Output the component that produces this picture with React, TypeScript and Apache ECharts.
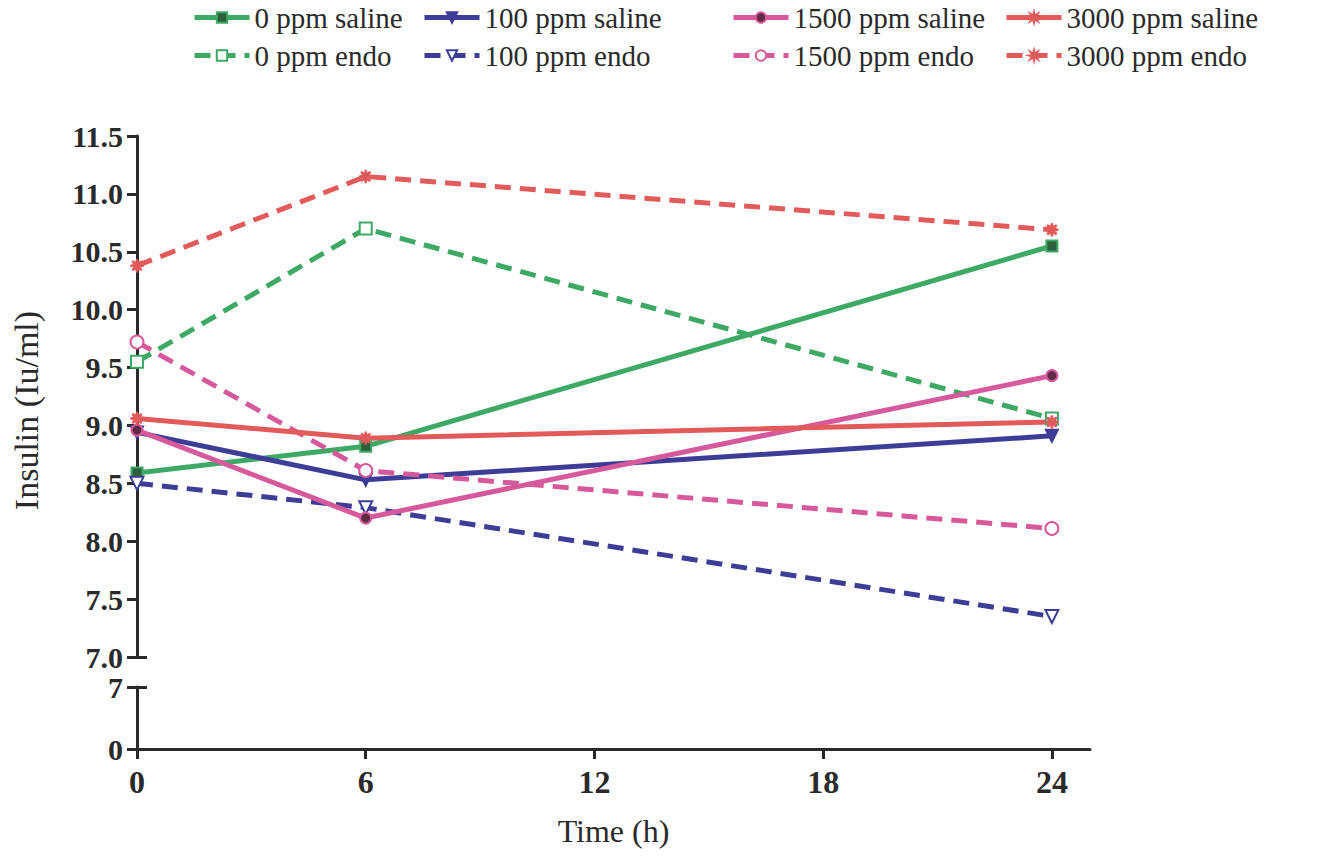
import React, { useEffect, useRef } from "react";
import * as echarts from "echarts";

// Sampling times (h) and the x tick labels
const hours = [0, 6, 24];
const xTicks = [0, 6, 12, 18, 24];

// Insulin (Iu/ml) per treatment group
const saline0 = [8.59, 8.82, 10.55];
const endo0 = [9.55, 10.7, 9.06];
const saline100 = [8.94, 8.53, 8.91];
const endo100 = [8.5, 8.29, 7.35];
const saline1500 = [8.96, 8.2, 9.43];
const endo1500 = [9.72, 8.61, 8.11];
const saline3000 = [9.06, 8.89, 9.03];
const endo3000 = [10.38, 11.15, 10.69];

// Upper (zoomed) and lower (full) y ranges of the broken axis
const upperTicks = [7.0, 7.5, 8.0, 8.5, 9.0, 9.5, 10.0, 10.5, 11.0, 11.5];
const lowerTicks = [0, 7];

const GREEN = "#3ea865";
const BLUE = "#3d3d97";
const PINK = "#d65a9b";
const RED = "#e25a5a";
const INK = "#2a2a2a";

const STAR =
  "path://M0,-10 L1.53,-3.7 L7.07,-7.07 L3.7,-1.53 L10,0 L3.7,1.53 L7.07,7.07 L1.53,3.7 L0,10 L-1.53,3.7 L-7.07,7.07 L-3.7,1.53 L-10,0 L-3.7,-1.53 L-7.07,-7.07 L-1.53,-3.7 Z";

const FONT = "'Liberation Serif', 'Times New Roman', serif";

type Def = {
  name: string;
  values: number[];
  color: string;
  dashed: boolean;
  symbol: string;
  fill: string;
  rotate?: number;
  size?: number;
};

const defs: Def[] = [
  { name: "0 ppm saline", values: saline0, color: GREEN, dashed: false, symbol: "rect", fill: "#2c5f3b", size: 11 },
  { name: "0 ppm endo", values: endo0, color: GREEN, dashed: true, symbol: "rect", fill: "#ffffff", size: 12 },
  { name: "100 ppm saline", values: saline100, color: BLUE, dashed: false, symbol: "triangle", fill: BLUE, rotate: 180, size: 12 },
  { name: "100 ppm endo", values: endo100, color: BLUE, dashed: true, symbol: "triangle", fill: "#ffffff", rotate: 180, size: 13 },
  { name: "1500 ppm saline", values: saline1500, color: PINK, dashed: false, symbol: "circle", fill: "#5e2a46", size: 11 },
  { name: "1500 ppm endo", values: endo1500, color: PINK, dashed: true, symbol: "circle", fill: "#ffffff", size: 13 },
  { name: "3000 ppm saline", values: saline3000, color: RED, dashed: false, symbol: STAR, fill: RED, size: 13 },
  { name: "3000 ppm endo", values: endo3000, color: RED, dashed: true, symbol: STAR, fill: RED, size: 13 },
];

const legendLefts = [192, 422, 731, 1004];

export default function App() {
  const ref = useRef<HTMLDivElement>(null);

  useEffect(() => {
    if (!ref.current) return;
    const chart = echarts.init(ref.current, null, { renderer: "svg" });

    const axisLine = { show: true, lineStyle: { color: INK, width: 3 } };
    const tickStyle = { color: INK, width: 3 };
    const xTickLabel = {
      fontFamily: FONT,
      fontSize: 32,
      fontWeight: "bold" as const,
      color: INK,
    };
    const yTickLabel = {
      fontFamily: FONT,
      fontSize: 30,
      lineHeight: 24,
      fontWeight: "bold" as const,
      color: INK,
    };

    const series = defs.map((d) => ({
      type: "line",
      name: d.name,
      xAxisIndex: 0,
      yAxisIndex: 0,
      data: hours.map((h, i) => [h, d.values[i]]),
      symbol: d.symbol,
      symbolSize: d.size ?? 12,
      symbolRotate: d.rotate ?? 0,
      showSymbol: true,
      lineStyle: {
        color: d.color,
        width: 5,
        type: d.dashed ? [16, 9] : "solid",
      },
      itemStyle: { color: d.fill, borderColor: d.color, borderWidth: 2 },
      z: 3,
    }));

    const legends = legendLefts.map((left, c) => ({
      orient: "vertical",
      left,
      top: 3,
      padding: 0,
      itemWidth: 55,
      itemHeight: 13,
      itemGap: 9,
      lineStyle: { width: 5 },
      data: [defs[c * 2].name, defs[c * 2 + 1].name],
      textStyle: {
        fontFamily: FONT,
        fontSize: 29,
        lineHeight: 28,
        color: INK,
      },
    }));

    chart.setOption({
      animation: false,
      backgroundColor: "#ffffff",
      legend: legends,
      grid: [
        { left: 137, width: 953, top: 136, height: 521 },
        { left: 137, width: 953, top: 687, height: 62 },
      ],
      xAxis: [
        {
          type: "value",
          gridIndex: 0,
          min: 0,
          max: 25,
          show: false,
        },
        {
          type: "value",
          gridIndex: 1,
          min: 0,
          max: 25,
          axisLine: axisLine,
          splitLine: { show: false },
          axisTick: {
            show: true,
            length: 10,
            lineStyle: tickStyle,
            customValues: xTicks,
          },
          axisLabel: { ...xTickLabel, margin: 17, customValues: xTicks },
          name: "Time (h)",
          nameLocation: "middle",
          nameGap: 66,
          nameTextStyle: { fontFamily: FONT, fontSize: 32, color: INK },
        },
      ],
      yAxis: [
        {
          type: "value",
          gridIndex: 0,
          position: "left",
          min: 7,
          max: 11.5,
          interval: 0.5,
          axisLine: axisLine,
          splitLine: { show: false },
          axisTick: {
            show: true,
            length: 10,
            lineStyle: tickStyle,
            customValues: upperTicks,
          },
          axisLabel: {
            ...yTickLabel,
            margin: 14,
            customValues: upperTicks,
            formatter: (v: number) => v.toFixed(1),
          },
          name: "Insulin (Iu/ml)",
          nameLocation: "middle",
          nameGap: 94,
          nameTextStyle: {
            fontFamily: FONT,
            fontSize: 34,
            color: INK,
            padding: [0, 28, 0, 0],
          },
        },
        {
          // break cap at the bottom of the upper segment
          type: "value",
          gridIndex: 0,
          position: "left",
          min: 7,
          max: 11.5,
          axisLine: { show: false },
          splitLine: { show: false },
          axisLabel: { show: false },
          axisTick: {
            show: true,
            inside: true,
            length: 10,
            lineStyle: tickStyle,
            customValues: [7],
          },
        },
        {
          type: "value",
          gridIndex: 1,
          position: "left",
          min: 0,
          max: 7,
          interval: 7,
          axisLine: axisLine,
          splitLine: { show: false },
          axisTick: {
            show: true,
            length: 10,
            lineStyle: tickStyle,
            customValues: lowerTicks,
          },
          axisLabel: { ...yTickLabel, margin: 14, customValues: lowerTicks },
        },
        {
          // break cap at the top of the lower segment
          type: "value",
          gridIndex: 1,
          position: "left",
          min: 0,
          max: 7,
          axisLine: { show: false },
          splitLine: { show: false },
          axisLabel: { show: false },
          axisTick: {
            show: true,
            inside: true,
            length: 10,
            lineStyle: tickStyle,
            customValues: [7],
          },
        },
      ],
      series,
    });

    return () => chart.dispose();
  }, []);

  return (
    <div
      ref={ref}
      style={{ position: "fixed", left: 0, top: 0, width: 1344, height: 856 }}
    />
  );
}
